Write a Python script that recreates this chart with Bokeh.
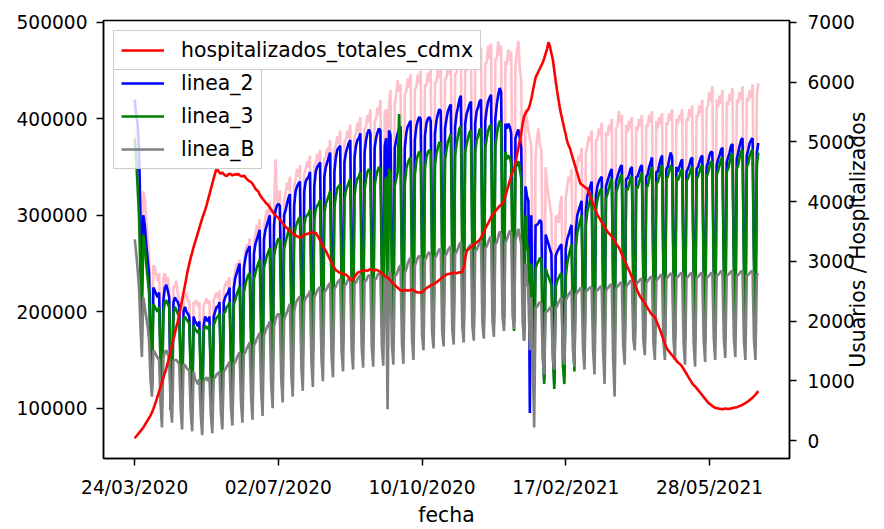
import math
from bokeh.plotting import figure
from bokeh.models import Range1d, LinearAxis, FixedTicker, Legend, LegendItem, ColumnDataSource
from bokeh.embed import file_html
from bokeh.resources import INLINE

# ---------------- data (daily, one row = one week Tue..Mon) ----------------
# ridership values in thousands of users
linea_1 = [
    390, 382, 370, 352, 300, 240, 325,
    318, 298, 276, 258, 200, 158, 248,
    246, 238, 232, 240, 175, 135, 236,
    240, 228, 236, 224, 168, 128, 226,
    226, 232, 218, 214, 160, 125, 218,
    214, 220, 210, 212, 158, 122, 210,
    208, 212, 205, 210, 155, 120, 206,
    210, 214, 208, 212, 156, 122, 212,
    216, 220, 214, 222, 160, 126, 222,
    228, 232, 226, 236, 170, 132, 234,
    242, 250, 244, 254, 180, 140, 250,
    262, 270, 264, 276, 195, 150, 270,
    280, 290, 282, 296, 208, 160, 288,
    298, 306, 296, 314, 220, 168, 305,
    358, 318, 310, 326, 228, 175, 316,
    322, 334, 326, 340, 238, 182, 330,
    338, 348, 340, 352, 246, 188, 342,
    348, 356, 350, 362, 252, 192, 352,
    352, 364, 356, 368, 256, 195, 360,
    360, 370, 362, 378, 262, 198, 368,
    372, 382, 374, 388, 268, 200, 376,
    378, 388, 380, 394, 272, 202, 382,
    384, 396, 386, 402, 276, 204, 390,
    392, 404, 396, 410, 280, 206, 398,
    400, 412, 404, 420, 284, 208, 406,
    410, 260, 414, 430, 290, 210, 416,
    424, 440, 428, 436, 295, 212, 426,
    428, 442, 432, 446, 300, 215, 432,
    432, 446, 436, 450, 302, 216, 436,
    434, 448, 438, 452, 304, 218, 438,
    438, 452, 442, 456, 306, 218, 442,
    442, 458, 446, 462, 308, 220, 446,
    448, 462, 452, 468, 310, 220, 450,
    450, 466, 454, 470, 312, 222, 454,
    454, 470, 458, 474, 314, 222, 458,
    458, 476, 462, 478, 316, 222, 462,
    462, 480, 466, 476, 316, 220, 460,
    456, 472, 460, 470, 310, 215, 455,
    470, 481, 452, 440, 300, 205, 410,
    400, 388, 380, 372, 250, 120, 360,
    380, 390, 372, 368, 245, 170, 350,
    330, 320, 310, 300, 220, 160, 298,
    300, 292, 310, 320, 225, 165, 318,
    330, 340, 334, 348, 240, 180, 344,
    352, 362, 356, 370, 255, 190, 364,
    372, 382, 376, 388, 265, 195, 378,
    378, 390, 382, 396, 270, 198, 386,
    382, 394, 386, 400, 272, 200, 390,
    392, 408, 396, 404, 275, 202, 394,
    386, 398, 390, 402, 274, 200, 392,
    388, 400, 392, 404, 275, 200, 394,
    392, 404, 396, 408, 278, 202, 398,
    390, 402, 394, 406, 278, 202, 396,
    394, 406, 398, 410, 280, 204, 400,
    394, 404, 398, 410, 280, 204, 400,
    398, 410, 402, 414, 282, 205, 404,
    402, 414, 406, 420, 285, 206, 410,
    414, 428, 418, 434, 290, 208, 420,
    412, 424, 416, 430, 290, 208, 418,
    414, 426, 418, 432, 292, 210, 420,
    416, 428, 420, 434, 292, 210, 422,
    418, 430, 422, 436, 294, 212, 425,
    437,
]

linea_2 = [
    420, 405, 395, 370, 300, 220, 300,
    290, 270, 255, 240, 170, 125, 225,
    222, 218, 215, 220, 150, 110, 212,
    225, 228, 222, 215, 98, 105, 210,
    215, 212, 210, 205, 145, 100, 200,
    205, 200, 198, 195, 140, 100, 195,
    190, 188, 185, 190, 135, 95, 185,
    195, 192, 190, 195, 138, 98, 195,
    200, 205, 205, 210, 145, 105, 210,
    215, 218, 220, 225, 155, 112, 225,
    235, 240, 245, 250, 170, 122, 245,
    255, 262, 265, 268, 185, 132, 260,
    270, 275, 280, 285, 195, 140, 275,
    285, 290, 295, 300, 205, 148, 290,
    305, 310, 312, 310, 215, 155, 300,
    305, 312, 318, 322, 222, 160, 310,
    325, 330, 333, 335, 230, 165, 325,
    335, 338, 340, 345, 235, 168, 330,
    345, 350, 352, 355, 240, 172, 340,
    350, 355, 360, 365, 245, 175, 345,
    360, 368, 370, 372, 250, 178, 355,
    365, 370, 375, 378, 252, 180, 360,
    372, 378, 380, 385, 255, 182, 365,
    378, 385, 389, 385, 258, 184, 370,
    380, 386, 390, 388, 260, 185, 372,
    380, 210, 388, 383, 260, 185, 370,
    378, 385, 390, 392, 262, 186, 370,
    385, 392, 395, 398, 265, 188, 378,
    392, 398, 402, 400, 268, 190, 382,
    395, 400, 402, 398, 270, 190, 385,
    398, 405, 410, 408, 272, 192, 390,
    400, 408, 412, 415, 274, 194, 392,
    405, 412, 420, 424, 276, 195, 395,
    405, 410, 415, 418, 276, 195, 395,
    408, 412, 418, 420, 278, 196, 398,
    410, 418, 422, 425, 278, 196, 400,
    415, 425, 432, 428, 278, 195, 395,
    390, 395, 392, 385, 270, 190, 380,
    385, 389, 380, 370, 255, 180, 330,
    320, 315, 95, 300, 180, 140, 290,
    290, 292, 295, 293, 180, 130, 280,
    275, 270, 265, 260, 175, 125, 258,
    262, 265, 268, 270, 180, 132, 265,
    275, 280, 285, 290, 195, 145, 285,
    300, 305, 310, 315, 210, 155, 305,
    320, 325, 330, 335, 222, 162, 320,
    330, 335, 338, 340, 228, 166, 330,
    335, 340, 345, 348, 232, 170, 335,
    340, 345, 350, 352, 236, 172, 338,
    338, 342, 348, 350, 236, 172, 340,
    340, 345, 350, 352, 238, 174, 340,
    342, 350, 355, 360, 240, 175, 345,
    345, 352, 358, 362, 242, 176, 348,
    350, 358, 365, 360, 244, 178, 350,
    345, 350, 355, 358, 244, 178, 345,
    348, 352, 358, 360, 246, 178, 348,
    350, 355, 360, 362, 246, 180, 350,
    355, 362, 366, 365, 248, 180, 352,
    358, 362, 368, 370, 250, 182, 355,
    360, 365, 372, 374, 252, 182, 358,
    365, 372, 378, 380, 254, 184, 362,
    368, 375, 378, 380, 256, 185, 365,
    375,
]

linea_3 = [
    380, 360, 330, 300, 240, 190, 280,
    270, 250, 235, 220, 160, 118, 208,
    205, 202, 200, 205, 145, 110, 200,
    210, 212, 208, 205, 140, 108, 198,
    205, 202, 198, 195, 138, 105, 192,
    195, 192, 190, 188, 133, 102, 186,
    182, 180, 178, 182, 128, 98, 180,
    185, 184, 182, 186, 130, 100, 186,
    190, 194, 195, 198, 138, 105, 198,
    200, 205, 206, 210, 145, 110, 208,
    212, 218, 222, 226, 155, 118, 220,
    228, 234, 238, 240, 165, 125, 234,
    240, 246, 250, 254, 175, 132, 246,
    252, 258, 262, 266, 182, 138, 258,
    266, 272, 276, 274, 190, 145, 265,
    272, 278, 284, 288, 198, 150, 276,
    288, 292, 296, 298, 205, 155, 290,
    298, 300, 302, 306, 210, 158, 295,
    306, 310, 312, 316, 215, 162, 302,
    312, 316, 320, 325, 220, 165, 308,
    320, 328, 330, 332, 225, 168, 316,
    326, 330, 334, 338, 228, 170, 320,
    332, 338, 340, 345, 230, 172, 326,
    338, 345, 348, 345, 232, 174, 330,
    340, 346, 350, 348, 234, 175, 332,
    340, 180, 348, 344, 234, 175, 330,
    338, 345, 405, 352, 236, 176, 332,
    348, 354, 358, 360, 240, 178, 342,
    356, 362, 366, 364, 242, 180, 348,
    360, 365, 368, 364, 244, 180, 352,
    364, 370, 376, 374, 246, 182, 358,
    368, 376, 380, 384, 248, 184, 362,
    374, 382, 390, 392, 250, 185, 366,
    374, 380, 386, 388, 250, 185, 366,
    378, 382, 389, 390, 252, 186, 370,
    380, 388, 392, 394, 252, 186, 372,
    384, 392, 398, 394, 250, 185, 366,
    358, 362, 360, 354, 244, 180, 350,
    352, 356, 348, 338, 230, 170, 300,
    270, 262, 170, 250, 165, 130, 245,
    250, 252, 256, 254, 161, 125, 245,
    240, 236, 232, 228, 160, 120, 226,
    232, 235, 238, 240, 145, 125, 236,
    250, 258, 264, 270, 185, 138, 266,
    282, 288, 294, 300, 200, 148, 290,
    304, 310, 316, 322, 212, 155, 306,
    316, 322, 326, 328, 218, 158, 318,
    322, 328, 334, 338, 222, 162, 324,
    328, 334, 340, 342, 226, 164, 328,
    326, 332, 338, 340, 226, 164, 330,
    328, 334, 340, 344, 228, 166, 330,
    330, 338, 344, 350, 230, 166, 334,
    334, 340, 348, 352, 232, 168, 338,
    340, 346, 352, 348, 234, 170, 340,
    336, 340, 345, 348, 234, 170, 336,
    338, 342, 348, 350, 236, 170, 338,
    340, 345, 350, 352, 236, 172, 340,
    344, 350, 356, 354, 238, 172, 342,
    346, 352, 358, 360, 240, 174, 345,
    348, 355, 362, 364, 242, 174, 348,
    352, 360, 366, 368, 244, 176, 350,
    354, 362, 366, 368, 246, 178, 352,
    365,
]

linea_B = [
    275, 262, 245, 225, 185, 153, 215,
    205, 195, 185, 170, 130, 112, 160,
    158, 155, 152, 150, 105, 80, 152,
    158, 160, 156, 152, 102, 85, 150,
    150, 150, 148, 145, 100, 78, 145,
    145, 142, 140, 140, 96, 76, 138,
    130, 128, 125, 130, 92, 72, 128,
    130, 132, 128, 132, 94, 74, 130,
    132, 135, 136, 138, 96, 78, 138,
    140, 143, 145, 148, 100, 82, 146,
    148, 152, 155, 158, 105, 85, 156,
    158, 162, 165, 168, 112, 88, 165,
    168, 172, 175, 178, 118, 92, 175,
    180, 184, 186, 190, 125, 100, 185,
    192, 196, 198, 196, 130, 106, 192,
    196, 200, 204, 208, 136, 112, 200,
    208, 212, 214, 216, 142, 118, 210,
    214, 216, 218, 222, 148, 122, 215,
    218, 222, 224, 226, 152, 128, 220,
    222, 225, 228, 230, 155, 132, 224,
    226, 230, 232, 234, 158, 138, 228,
    228, 232, 234, 236, 160, 140, 230,
    230, 234, 236, 238, 162, 142, 232,
    232, 236, 238, 236, 164, 143, 234,
    234, 238, 240, 238, 165, 144, 236,
    236, 99, 242, 240, 166, 145, 238,
    238, 242, 246, 248, 168, 146, 240,
    244, 250, 254, 256, 172, 150, 248,
    252, 256, 258, 256, 176, 160, 254,
    256, 260, 262, 258, 178, 162, 256,
    258, 262, 265, 264, 180, 164, 258,
    260, 264, 266, 268, 182, 166, 260,
    262, 266, 270, 272, 184, 168, 262,
    262, 266, 268, 270, 185, 170, 264,
    264, 268, 272, 274, 188, 172, 266,
    268, 272, 276, 278, 190, 174, 270,
    272, 278, 283, 280, 195, 180, 272,
    275, 280, 284, 282, 196, 182, 274,
    280, 286, 278, 270, 190, 170, 250,
    230, 225, 160, 215, 150, 80, 205,
    205, 208, 210, 208, 150, 135, 200,
    200, 202, 204, 205, 150, 140, 204,
    206, 210, 212, 215, 155, 145, 212,
    215, 218, 220, 222, 160, 143, 218,
    220, 222, 224, 225, 162, 140, 222,
    222, 224, 225, 226, 160, 135, 222,
    222, 224, 226, 226, 158, 125, 222,
    224, 226, 228, 228, 150, 112, 224,
    226, 228, 230, 230, 165, 145, 226,
    228, 230, 232, 232, 172, 160, 228,
    230, 232, 234, 234, 170, 155, 230,
    232, 234, 236, 236, 168, 150, 232,
    234, 236, 238, 238, 168, 150, 234,
    236, 238, 240, 238, 170, 150, 236,
    236, 238, 240, 240, 168, 145, 236,
    236, 238, 240, 240, 168, 143, 236,
    236, 238, 240, 240, 170, 148, 236,
    236, 238, 240, 240, 172, 150, 238,
    238, 240, 242, 242, 172, 152, 238,
    238, 240, 242, 242, 172, 153, 238,
    238, 240, 242, 242, 170, 150, 238,
    238, 240, 242, 242, 170, 150, 238,
    240,
]

# hospitalised people in Mexico City (persons)
hospitalizados_totales_cdmx = [
    40, 70, 100, 130, 160, 190, 220, 260, 300, 340,
    380, 420, 470, 530, 600, 670, 750, 820, 900, 980,
    1060, 1130, 1210, 1300, 1400, 1500, 1600, 1700, 1800, 1900,
    2000, 2110, 2230, 2350, 2480, 2600, 2730, 2860, 2960, 3060,
    3150, 3240, 3320, 3400, 3480, 3560, 3640, 3720, 3790, 3860,
    3940, 4030, 4120, 4210, 4300, 4390, 4480, 4560, 4520, 4490,
    4470, 4490, 4460, 4440, 4430, 4450, 4470, 4460, 4440, 4450,
    4460, 4450, 4470, 4440, 4430, 4420, 4440, 4410, 4380, 4360,
    4340, 4330, 4300, 4260, 4220, 4190, 4170, 4120, 4080, 4050,
    4020, 3990, 3960, 3940, 3900, 3870, 3830, 3800, 3770, 3750,
    3730, 3700, 3670, 3640, 3610, 3580, 3560, 3530, 3510, 3490,
    3470, 3450, 3440, 3420, 3410, 3400, 3410, 3430, 3450, 3450,
    3460, 3470, 3480, 3490, 3480, 3470, 3480, 3440, 3400, 3350,
    3300, 3250, 3210, 3180, 3130, 3080, 3030, 2980, 2930, 2890,
    2850, 2840, 2820, 2810, 2800, 2790, 2780, 2780, 2760, 2730,
    2700, 2680, 2700, 2740, 2780, 2810, 2820, 2830, 2840, 2850,
    2850, 2850, 2840, 2860, 2870, 2860, 2850, 2850, 2860, 2850,
    2840, 2820, 2800, 2780, 2760, 2740, 2730, 2710, 2680, 2650,
    2630, 2610, 2580, 2560, 2540, 2520, 2510, 2510, 2520, 2520,
    2510, 2520, 2520, 2530, 2520, 2500, 2490, 2480, 2480, 2480,
    2490, 2510, 2530, 2550, 2570, 2580, 2600, 2610, 2620, 2640,
    2650, 2670, 2690, 2710, 2730, 2750, 2760, 2780, 2790, 2790,
    2800, 2800, 2810, 2810, 2800, 2810, 2820, 2810, 2830, 2900,
    3050, 3180, 3200, 3220, 3240, 3260, 3280, 3300, 3320, 3340,
    3360, 3400, 3450, 3500, 3550, 3600, 3640, 3690, 3740, 3780,
    3810, 3840, 3870, 3900, 3930, 3950, 3970, 4020, 4100, 4180,
    4260, 4350, 4430, 4500, 4550, 4650, 4780, 4900, 5020, 5150,
    5300, 5430, 5480, 5520, 5550, 5620, 5720, 5840, 5960, 6080,
    6130, 6180, 6230, 6280, 6330, 6400, 6480, 6560, 6670, 6600,
    6480, 6380, 6200, 6020, 5850, 5700, 5550, 5440, 5330, 5220,
    5120, 5010, 4940, 4890, 4800, 4720, 4640, 4560, 4480, 4400,
    4310, 4290, 4270, 4250, 4230, 4220, 4160, 4100, 4030, 3970,
    3900, 3840, 3780, 3740, 3700, 3660, 3620, 3580, 3540, 3500,
    3470, 3450, 3420, 3380, 3340, 3300, 3260, 3230, 3180, 3120,
    3060, 3010, 2960, 2900, 2850, 2800, 2740, 2680, 2620, 2560,
    2500, 2450, 2400, 2370, 2340, 2300, 2260, 2220, 2180, 2140,
    2110, 2090, 2070, 2010, 1950, 1890, 1830, 1760, 1690, 1620,
    1560, 1520, 1490, 1460, 1430, 1400, 1370, 1340, 1310, 1290,
    1270, 1240, 1200, 1160, 1120, 1080, 1040, 1000, 960, 930,
    910, 880, 850, 820, 790, 760, 730, 700, 670, 640,
    620, 600, 580, 565, 550, 545, 540, 535, 530, 528,
    530, 540, 535, 530, 535, 540, 545, 550, 555, 560,
    570, 580, 590, 600, 615, 630, 645, 660, 680, 700,
    720, 745, 770, 800, 830,
]

fecha_tick_pos = [0, 100, 200, 300, 400]
fecha_tick_labels = ["24/03/2020", "02/07/2020", "10/10/2020", "17/02/2021", "28/05/2021"]
usuarios_ticks = [100000, 200000, 300000, 400000, 500000]
hosp_ticks = [0, 1000, 2000, 3000, 4000, 5000, 6000, 7000]

# ---------------- figure ----------------
FONT = "DejaVu Sans"
TICK_FS = "18.6px"
LABEL_FS = "20.4px"
RIGHT_LABEL = "Usuarios / Hospitalizados"

FRAME_L, FRAME_R, FRAME_T, FRAME_B = 103, 792, 20, 463
W, H = 884, 529

p = figure(width=W, height=H, output_backend="svg", toolbar_location=None,
           x_range=Range1d(-21.7, 455.7), y_range=Range1d(47800, 502000),
           min_border_left=FRAME_L, min_border_right=W - FRAME_R,
           min_border_top=FRAME_T, min_border_bottom=H - FRAME_B)
p.extra_y_ranges = {"hosp": Range1d(-298, 7033)}
p.grid.visible = False
p.outline_line_color = "black"
p.outline_line_width = 1.5
p.outline_line_alpha = 1.0
p.background_fill_color = "white"
p.border_fill_color = "white"


def style_axis(ax):
    ax.axis_line_color = "black"
    ax.axis_line_width = 1.5
    ax.major_tick_line_color = "black"
    ax.major_tick_line_width = 1.5
    ax.major_tick_out = 7
    ax.major_tick_in = 0
    ax.minor_tick_line_color = None
    ax.major_label_text_font = FONT
    ax.major_label_text_font_size = TICK_FS
    ax.major_label_text_color = "black"
    ax.axis_label_text_font = FONT
    ax.axis_label_text_font_size = LABEL_FS
    ax.axis_label_text_font_style = "normal"
    ax.axis_label_text_color = "black"


xa = p.xaxis[0]
style_axis(xa)
xa.ticker = FixedTicker(ticks=fecha_tick_pos)
xa.major_label_overrides = {t: l for t, l in zip(fecha_tick_pos, fecha_tick_labels)}
xa.axis_label = "fecha"
xa.major_label_standoff = 11
xa.axis_label_standoff = 2

ya = p.yaxis[0]
style_axis(ya)
ya.ticker = FixedTicker(ticks=usuarios_ticks)
ya.major_label_overrides = {t: str(t) for t in usuarios_ticks}
ya.major_label_standoff = 9

# right axis; its title reads bottom-to-top as in the reference.  With a numeric
# orientation Bokeh starts the text at the anchor, so anchor it at the bottom of
# the axis and lead with no-break spaces to centre it along the frame.
ra = LinearAxis(y_range_name="hosp")
style_axis(ra)
ra.ticker = FixedTicker(ticks=hosp_ticks)
ra.major_label_overrides = {t: str(t) for t in hosp_ticks}
ra.major_label_standoff = 11
ra.axis_label = "\u00a0" * 14 + RIGHT_LABEL
ra.axis_label_orientation = math.pi / 2
ra.axis_label_align = "start"
ra.axis_label_standoff = 0
p.add_layout(ra, "right")

LW = 2.6


def src(vals, scale):
    return ColumnDataSource(dict(x=list(range(len(vals))), y=[v * scale for v in vals]))


r1 = p.line("x", "y", source=src(linea_1, 1000), line_color="pink", line_width=LW)
r2 = p.line("x", "y", source=src(linea_2, 1000), line_color="blue", line_width=LW)
r3 = p.line("x", "y", source=src(linea_3, 1000), line_color="green", line_width=LW)
rB = p.line("x", "y", source=src(linea_B, 1000), line_color="gray", line_width=LW)
rh = p.line("x", "y", source=src(hospitalizados_totales_cdmx, 1), line_color="red",
            line_width=LW, y_range_name="hosp")


def make_legend(items):
    return Legend(items=items, location="top_left", margin=10, padding=7, spacing=9,
                  glyph_width=43, glyph_height=24, label_height=24, label_standoff=17,
                  label_text_font=FONT, label_text_font_size=LABEL_FS, label_text_color="black",
                  border_line_color="#cccccc", border_line_width=1.5, border_line_alpha=1.0,
                  background_fill_color="white", background_fill_alpha=0.8)


# first row of the series legend is hidden under the hospitalisation legend
leg1 = make_legend([LegendItem(label="", renderers=[r1]),
                    LegendItem(label="linea_2", renderers=[r2]),
                    LegendItem(label="linea_3", renderers=[r3]),
                    LegendItem(label="linea_B", renderers=[rB])])
leg2 = make_legend([LegendItem(label="hospitalizados_totales_cdmx", renderers=[rh])])
leg2.background_fill_alpha = 1.0
p.add_layout(leg1)
p.add_layout(leg2)

open("out.html", "w").write(file_html(p, INLINE))
